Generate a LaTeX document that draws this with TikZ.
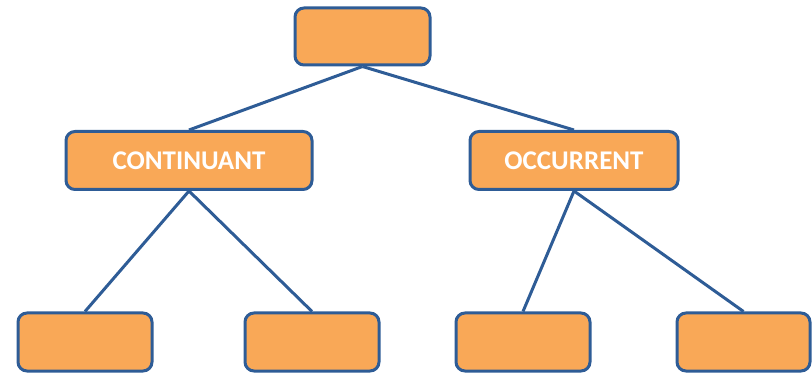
\documentclass[tikz,border=0pt]{standalone}
\usepackage{fontspec}
\setmainfont{Carlito}
\usetikzlibrary{calc}
\definecolor{boxfill}{HTML}{F9A857}
\definecolor{boxline}{HTML}{2E5C96}

\begin{document}
\begin{tikzpicture}[x=1pt, y=-1pt,
		cls/.style={draw=boxline, fill=boxfill, line width=3pt, rounded corners=9pt,
			minimum height=58pt, inner sep=0pt, text=white,
			font=\fontsize{27}{32}\selectfont\bfseries},
		link/.style={draw=boxline, line width=3pt}]
		%%%%% START %%%%%
		
		\useasboundingbox (0, 0) rectangle (812, 374);
		
		\node[cls, minimum width=135pt, minimum height=57pt] (root) at (362.5, 36.5) {};
		
		\node[cls, minimum width=246pt] (cont) at (189, 160.5) {CONTINUANT};
		\node[cls, minimum width=208pt] (occ) at (574, 160.5) {OCCURRENT};
		
		\node[cls, minimum width=134pt] (contA) at (85, 342) {};
		\node[cls, minimum width=134pt] (contB) at (312, 342) {};
		\node[cls, minimum width=134pt] (occA) at (523, 342) {};
		\node[cls, minimum width=133pt] (occB) at (743.5, 342) {};
		
		\draw[link] (root.south) -- (cont.north);
		\draw[link] (root.south) -- (occ.north);
		
		\draw[link] (cont.south) -- (contA.north);
		\draw[link] (cont.south) -- (contB.north);
		\draw[link] (occ.south) -- (occA.north);
		\draw[link] (occ.south) -- (occB.north);
		
		%%%%% END %%%%%
	\end{tikzpicture}
\end{document}
